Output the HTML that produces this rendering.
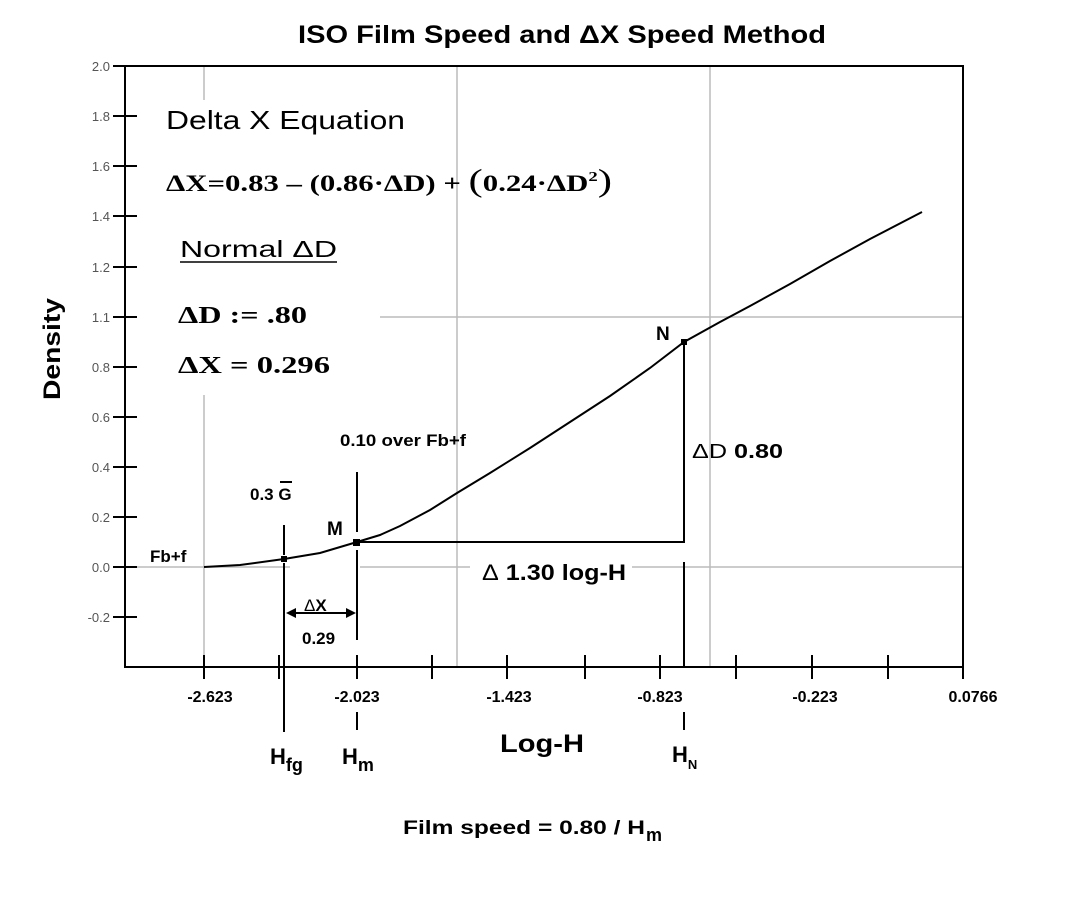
<!DOCTYPE html>
<html><head><meta charset="utf-8"><style>body{margin:0;background:#fff}svg{display:block}</style></head><body>
<svg width="1073" height="898" xmlns="http://www.w3.org/2000/svg" font-family="Liberation Sans, Arial, sans-serif">
<rect width="1073" height="898" fill="#fff"/>
<text x="298" y="43" font-size="25" font-weight="bold" textLength="528" lengthAdjust="spacingAndGlyphs">ISO Film Speed and ΔX Speed Method</text>
<g stroke="#bbb" stroke-width="1.5" fill="none">
<line x1="204" y1="66" x2="204" y2="100"/><line x1="204" y1="395" x2="204" y2="667"/>
<line x1="457" y1="66" x2="457" y2="667"/>
<line x1="710" y1="66" x2="710" y2="667"/>
<line x1="125" y1="567" x2="290" y2="567"/><line x1="360" y1="567" x2="470" y2="567"/><line x1="632" y1="567" x2="963" y2="567"/>
<line x1="380" y1="317" x2="963" y2="317"/>
</g>
<polyline points="125,66 125,667 963,667 963,66 125,66" stroke="#000" stroke-width="2" fill="none"/>
<g stroke="#000" stroke-width="2">
<line x1="113" y1="66" x2="137" y2="66"/><line x1="113" y1="116" x2="137" y2="116"/><line x1="113" y1="166" x2="137" y2="166"/><line x1="113" y1="216" x2="137" y2="216"/><line x1="113" y1="267" x2="137" y2="267"/><line x1="113" y1="317" x2="137" y2="317"/><line x1="113" y1="367" x2="137" y2="367"/><line x1="113" y1="417" x2="137" y2="417"/><line x1="113" y1="467" x2="137" y2="467"/><line x1="113" y1="517" x2="137" y2="517"/><line x1="113" y1="567" x2="137" y2="567"/><line x1="113" y1="617" x2="137" y2="617"/>
<line x1="204" y1="655" x2="204" y2="679"/><line x1="279" y1="655" x2="279" y2="679"/><line x1="357" y1="655" x2="357" y2="679"/><line x1="432" y1="655" x2="432" y2="679"/><line x1="507" y1="655" x2="507" y2="679"/><line x1="585" y1="655" x2="585" y2="679"/><line x1="660" y1="655" x2="660" y2="679"/><line x1="736" y1="655" x2="736" y2="679"/><line x1="812" y1="655" x2="812" y2="679"/><line x1="888" y1="655" x2="888" y2="679"/><line x1="963" y1="667" x2="963" y2="679"/>
</g>
<g font-size="13" fill="#555" text-anchor="end">
<text x="110" y="71">2.0</text><text x="110" y="121">1.8</text><text x="110" y="171">1.6</text><text x="110" y="221">1.4</text><text x="110" y="272">1.2</text><text x="110" y="322">1.1</text><text x="110" y="372">0.8</text><text x="110" y="422">0.6</text><text x="110" y="472">0.4</text><text x="110" y="522">0.2</text><text x="110" y="572">0.0</text><text x="110" y="622">-0.2</text>
</g>
<g font-size="16" font-weight="bold" text-anchor="middle">
<text x="210" y="702">-2.623</text><text x="357" y="702">-2.023</text><text x="509" y="702">-1.423</text><text x="660" y="702">-0.823</text><text x="815" y="702">-0.223</text><text x="973" y="702">0.0766</text>
</g>
<text transform="translate(60,400) rotate(-90)" font-size="24" font-weight="bold" textLength="102" lengthAdjust="spacingAndGlyphs">Density</text>
<text x="500" y="752" font-size="25" font-weight="bold" textLength="84" lengthAdjust="spacingAndGlyphs">Log-H</text>
<text x="166" y="129" font-size="26" textLength="239" lengthAdjust="spacingAndGlyphs">Delta X Equation</text>
<text x="166" y="191" font-size="23" font-weight="bold" font-family="Liberation Serif, serif" textLength="446" lengthAdjust="spacingAndGlyphs">ΔX=0.83 – (0.86·ΔD) + <tspan font-size="32" font-weight="normal">(</tspan>0.24·ΔD<tspan dy="-10" font-size="14">2</tspan><tspan dy="10" font-size="32" font-weight="normal">)</tspan></text>
<text x="180" y="257" font-size="23" textLength="157" lengthAdjust="spacingAndGlyphs">Normal ΔD</text>
<line x1="180" y1="262" x2="337" y2="262" stroke="#000" stroke-width="1.5"/>
<text x="178" y="323" font-size="24" font-weight="bold" font-family="Liberation Serif, serif" textLength="129" lengthAdjust="spacingAndGlyphs">ΔD  :=  .80</text>
<text x="178" y="373" font-size="24" font-weight="bold" font-family="Liberation Serif, serif" textLength="152" lengthAdjust="spacingAndGlyphs">ΔX  =  0.296</text>
<polyline fill="none" stroke="#000" stroke-width="2" points="204,567 240,565 284,559 320,553 357,542 380,535 400,526 430,510 457,493 490,473 530,448 570,422 610,396 650,368 684,342 720,322 750,306 790,284 830,261 870,239 922,212"/>
<g stroke="#000" stroke-width="2" fill="none">
<polyline points="357,542 684,542 684,342"/>
<line x1="684" y1="562" x2="684" y2="667"/>
<line x1="684" y1="712" x2="684" y2="730"/>
<line x1="357" y1="472" x2="357" y2="532"/>
<line x1="357" y1="550" x2="357" y2="640"/>
<line x1="357" y1="712" x2="357" y2="730"/>
<line x1="284" y1="525" x2="284" y2="555"/>
<line x1="284" y1="563" x2="284" y2="732"/>
<line x1="292" y1="613" x2="350" y2="613"/>
</g>
<polygon points="286,613 296,608 296,618"/><polygon points="356,613 346,608 346,618"/>
<rect x="281" y="556" width="6" height="6"/><rect x="353" y="539" width="7" height="7"/><rect x="681" y="339" width="6" height="6"/>
<g font-size="17" font-weight="bold">
<text x="250" y="500">0.3 G</text>
<line x1="280" y1="482" x2="292" y2="482" stroke="#000" stroke-width="2"/>
<text x="150" y="562">Fb+f</text>
<text x="340" y="446" textLength="126" lengthAdjust="spacingAndGlyphs">0.10 over Fb+f</text>
<text x="327" y="535" font-size="19">M</text>
<text x="656" y="340" font-size="19">N</text>
<text x="692" y="458" font-size="20" textLength="91" lengthAdjust="spacingAndGlyphs"><tspan font-weight="normal">ΔD</tspan> 0.80</text>
<text x="482" y="580" font-size="22" textLength="144" lengthAdjust="spacingAndGlyphs"><tspan font-weight="normal">Δ</tspan> 1.30 log-H</text>
<text x="304" y="611"><tspan font-weight="normal">Δ</tspan>X</text>
<text x="302" y="644">0.29</text>
<text x="270" y="764" font-size="22">H<tspan dy="7" font-size="18">fg</tspan></text>
<text x="342" y="764" font-size="22">H<tspan dy="7" font-size="18">m</tspan></text>
<text x="672" y="762" font-size="22">H<tspan dy="7" font-size="13">N</tspan></text>
<text x="403" y="834" font-size="19" textLength="242" lengthAdjust="spacingAndGlyphs">Film speed = 0.80 / H</text>
<text x="646" y="841" font-size="18">m</text>
</g>
</svg>
</body></html>
